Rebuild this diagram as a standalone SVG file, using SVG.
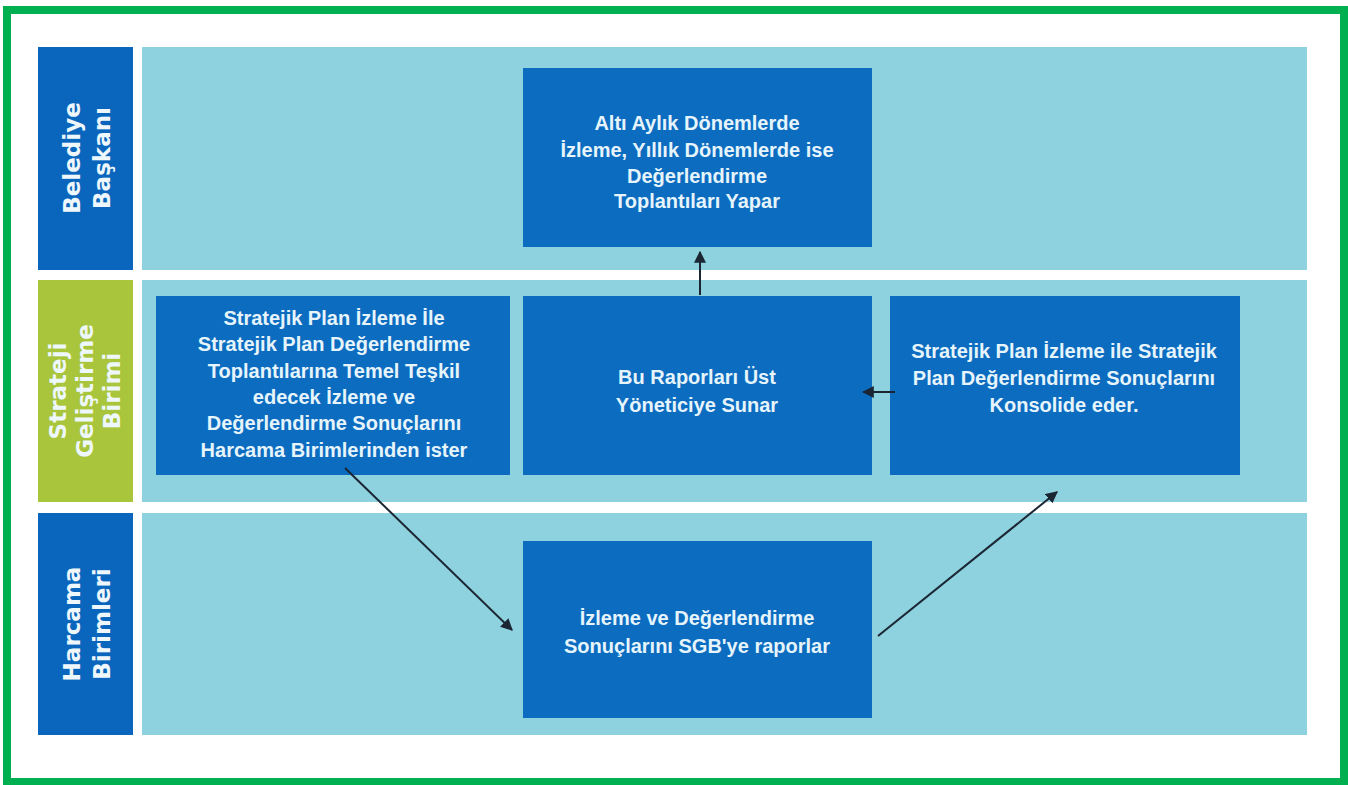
<svg xmlns="http://www.w3.org/2000/svg" width="1348" height="785" viewBox="0 0 1348 785">
<style>
.lane{fill:#8dd2de}
.lbl{fill:#0a66bd}
.lblg{fill:#a9c53b}
.node{fill:#0b6cc0}
.lt{font-family:"DejaVu Sans",sans-serif;font-weight:bold;font-size:23px;fill:#eef7fc;text-anchor:middle;dominant-baseline:central}
.nt{font-family:"Liberation Sans",Arial,sans-serif;font-weight:bold;font-size:20px;fill:#e6f4fb;text-anchor:middle;dominant-baseline:central}
.conn{stroke:#1b2533;stroke-width:2;fill:none;marker-end:url(#ah)}
</style>
<defs>
<marker id="ah" viewBox="0 0 10 10" refX="9" refY="5" markerWidth="6" markerHeight="6" markerUnits="strokeWidth" orient="auto">
<path d="M0,0 L10,5 L0,10 z" fill="#1b2533"/>
</marker>
</defs>
<rect x="0" y="0" width="1348" height="785" fill="#ffffff"/>
<rect x="7" y="10" width="1337" height="772" fill="#ffffff" stroke="#00b050" stroke-width="8"/>

<g id="lane-baskan">
<rect class="lane" x="142" y="47" width="1165" height="223"/>
<rect class="lbl" x="38" y="47" width="95" height="223"/>
<text class="lt" transform="translate(72,158) rotate(-90)">Belediye</text>
<text class="lt" transform="translate(102,158) rotate(-90)">Başkanı</text>
</g>
<g id="lane-sgb">
<rect class="lane" x="142" y="280" width="1165" height="222"/>
<rect class="lblg" x="38" y="280" width="95" height="222"/>
<text class="lt" transform="translate(58,391) rotate(-90)">Strateji</text>
<text class="lt" transform="translate(85,391) rotate(-90)">Geliştirme</text>
<text class="lt" transform="translate(112,391) rotate(-90)">Birimi</text>
</g>
<g id="lane-harcama">
<rect class="lane" x="142" y="513" width="1165" height="222"/>
<rect class="lbl" x="38" y="513" width="95" height="222"/>
<text class="lt" transform="translate(72,624) rotate(-90)">Harcama</text>
<text class="lt" transform="translate(102,624) rotate(-90)">Birimleri</text>
</g>

<g id="node-toplanti">
<rect class="node" x="523" y="68" width="349" height="179"/>
<text class="nt" x="697" y="123">Altı Aylık Dönemlerde</text>
<text class="nt" x="697" y="150">İzleme, Yıllık Dönemlerde ise</text>
<text class="nt" x="697" y="176">Değerlendirme</text>
<text class="nt" x="697" y="201">Toplantıları Yapar</text>
</g>
<g id="node-ister">
<rect class="node" x="156" y="296" width="354" height="179"/>
<text class="nt" x="334" y="318">Stratejik Plan İzleme İle</text>
<text class="nt" x="334" y="344">Stratejik Plan Değerlendirme</text>
<text class="nt" x="334" y="371">Toplantılarına Temel Teşkil</text>
<text class="nt" x="334" y="397">edecek İzleme ve</text>
<text class="nt" x="334" y="423">Değerlendirme Sonuçlarını</text>
<text class="nt" x="334" y="450">Harcama Birimlerinden ister</text>
</g>
<g id="node-sunar">
<rect class="node" x="523" y="296" width="349" height="179"/>
<text class="nt" x="697" y="377">Bu Raporları Üst</text>
<text class="nt" x="697" y="405">Yöneticiye Sunar</text>
</g>
<g id="node-konsolide">
<rect class="node" x="890" y="296" width="350" height="179"/>
<text class="nt" x="1064" y="351">Stratejik Plan İzleme ile Stratejik</text>
<text class="nt" x="1064" y="378">Plan Değerlendirme Sonuçlarını</text>
<text class="nt" x="1064" y="405">Konsolide eder.</text>
</g>
<g id="node-raporlar">
<rect class="node" x="523" y="541" width="349" height="177"/>
<text class="nt" x="697" y="618">İzleme ve Değerlendirme</text>
<text class="nt" x="697" y="646">Sonuçlarını SGB'ye raporlar</text>
</g>

<g id="connectors">
<line class="conn" x1="700" y1="295" x2="700" y2="252"/>
<line class="conn" x1="895" y1="392" x2="863" y2="392"/>
<line class="conn" x1="345" y1="468" x2="512" y2="630"/>
<line class="conn" x1="878" y1="636" x2="1057" y2="492"/>
</g>
</svg>
